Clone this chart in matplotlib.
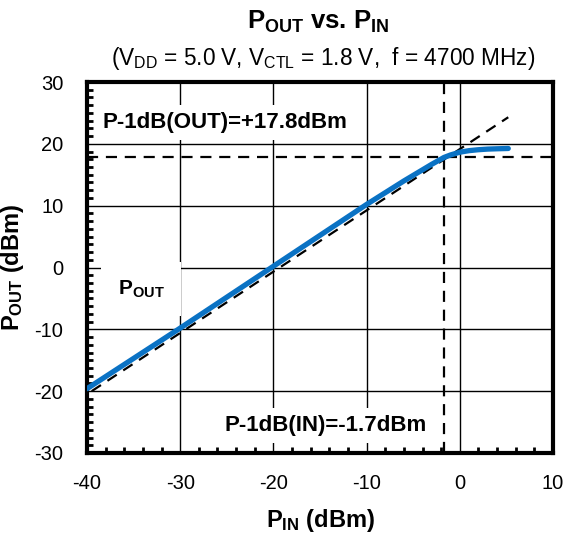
import matplotlib
matplotlib.use("Agg")
import matplotlib.pyplot as plt
from matplotlib.ticker import MultipleLocator
import numpy as np

plt.rcParams['font.family'] = ['Liberation Sans', 'DejaVu Sans']
plt.rcParams['mathtext.fontset'] = 'custom'
plt.rcParams['mathtext.rm'] = 'Liberation Sans'
plt.rcParams['mathtext.bf'] = 'Liberation Sans:bold'
plt.rcParams['mathtext.it'] = 'Liberation Sans:italic'

# Data
pin = [-40, -35, -30, -25, -20, -15, -10, -8, -6, -4, -3, -1.7, -1, 0, 1, 2, 3, 4, 5.2]
pout = [-19.6, -14.7, -9.8, -4.8, 0.2, 5.2, 10.2, 12.1, 14.0, 15.8, 16.7, 17.8, 18.2, 18.65, 18.9, 19.05, 19.15, 19.2, 19.25]
lin_x = [-39.5, 5.2]
lin_y = [-20.0, 24.3]
p1db_in = -1.7
p1db_out = 17.8

xticks = [-40, -30, -20, -10, 0, 10]
yticks = [-30, -20, -10, 0, 10, 20, 30]

fig = plt.figure(figsize=(5.65, 5.35), dpi=100)
ax = fig.add_axes([87/565, 1-453/535, (553-87)/565, (453-82)/535])

ax.set_xlim(-40, 10)
ax.set_ylim(-30, 30)
ax.set_xticks(xticks)
ax.set_yticks(yticks)
ax.set_xticklabels([str(v) for v in xticks])
ax.set_yticklabels([str(v) for v in yticks])
ax.xaxis.set_minor_locator(MultipleLocator(2))
ax.yaxis.set_minor_locator(MultipleLocator(1.25))
ax.tick_params(which='major', length=0, labelsize=14.5)
ax.tick_params(axis='y', which='major', pad=17)
ax.tick_params(axis='x', which='major', pad=15)
ax.tick_params(which='minor', direction='in', length=4, width=2)
ax.grid(True, which='major', color='black', linewidth=1)
ax.set_axisbelow(True)
for s in ax.spines.values():
    s.set_linewidth(3)

# dashed reference lines
ax.plot(lin_x, lin_y, color='black', lw=1.6, dashes=(5, 3.5), zorder=5)
ax.axhline(p1db_out, color='black', lw=1.6, dashes=(5, 3.5), zorder=5)
ax.axvline(p1db_in, color='black', lw=1.6, dashes=(5, 3.5), zorder=5)

# curve
ax.plot(pin, pout, color='#0A72C4', lw=3.8, solid_capstyle='round', zorder=6)

box = dict(facecolor='white', edgecolor='none', pad=5)
ax.text(-38.3, 23.5, 'P-1dB(OUT)=+17.8dBm', fontsize=16, fontweight='bold',
        ha='left', va='center', bbox=box, zorder=3)
ax.text(-25.2, -25.5, 'P-1dB(IN)=-1.7dBm', fontsize=16, fontweight='bold',
        ha='left', va='center', bbox=box, zorder=3)
ax.text(-36.7, -3.5, r'$\mathbf{P_{OUT}}$', fontsize=15, ha='left', va='center',
        bbox=dict(facecolor='white', edgecolor='none', pad=12), zorder=3)

fig.text(318/565, 1-22/535, r'$\mathbf{P_{OUT}}$ vs. $\mathbf{P_{IN}}$',
         fontsize=18.5, fontweight='bold', ha='center', va='center')
fig.text(323/565, 1-58/535, r'(V$_{\mathrm{DD}}$ = 5.0 V, V$_{\mathrm{CTL}}$ = 1.8 V,  f = 4700 MHz)',
         fontsize=16.3, ha='center', va='center')

ax.set_xlabel(r'$\mathbf{P_{IN}}$ (dBm)', fontsize=17, fontweight='bold', labelpad=10)
ax.set_ylabel(r'$\mathbf{P_{OUT}}$ (dBm)', fontsize=17, fontweight='bold', labelpad=6)

fig.savefig('out.png', dpi=100)
